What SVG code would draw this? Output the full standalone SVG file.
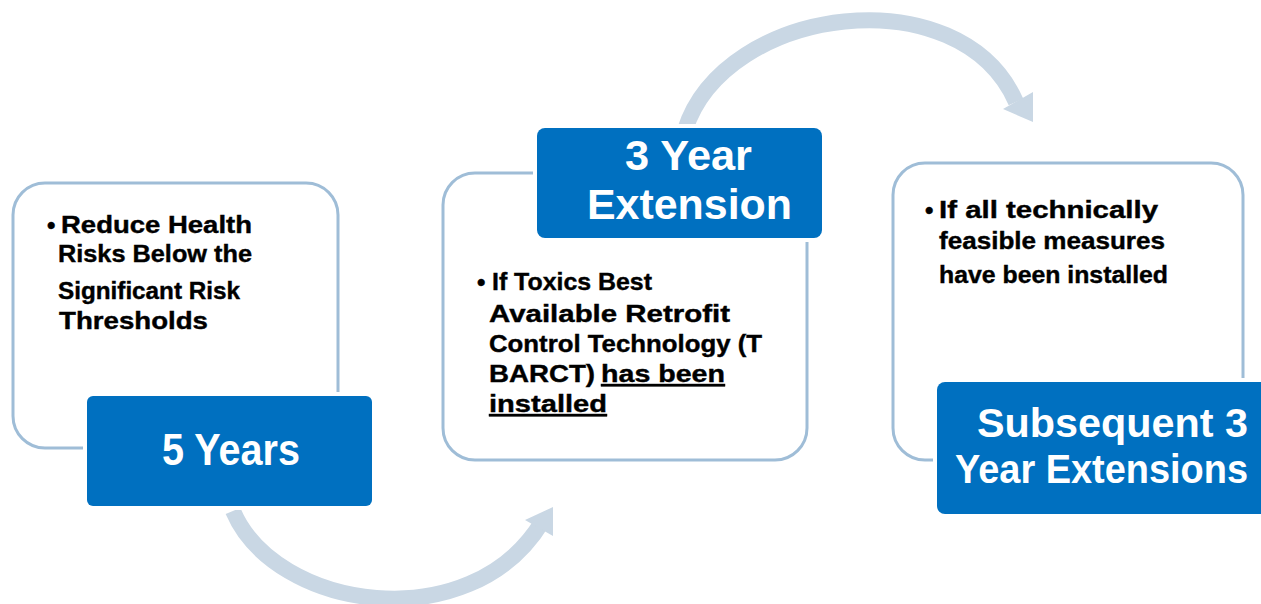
<svg xmlns="http://www.w3.org/2000/svg" width="1261" height="604" viewBox="0 0 1261 604">
<style>
.outline{fill:#ffffff;stroke:#9fbdd7;stroke-width:3}
.gap{fill:#ffffff}
.blue{fill:#0070c0}
.head{font-family:"Liberation Sans",Arial,sans-serif;font-weight:bold;fill:#ffffff}
.body{font-family:"Liberation Sans",Arial,sans-serif;font-weight:bold;font-size:24px;fill:#000000;stroke:#000000;stroke-width:0.4}
.arc{fill:none;stroke:#c9d7e4;stroke-width:16}
.arrowhead{fill:#c9d7e4}
</style>
<rect width="1261" height="604" fill="#ffffff"/>
<g id="connectors">
  <path class="arc" d="M233,511 C275,610 470,640 542,522"/>
  <polygon class="arrowhead" points="553,507 525,520 553,536"/>
  <path class="arc" d="M685,130 C725,5 960,-25 1016,102"/>
  <polygon class="arrowhead" points="1033,92 1003,109 1033,122"/>
</g>
<g id="node-5-years">
  <rect class="outline" x="13" y="183" width="325" height="265" rx="32"/>
  <rect class="gap" x="83" y="392" width="293" height="118" rx="8"/>
  <rect class="blue" x="87" y="396" width="285" height="110" rx="6"/>
  <text class="head" x="162" y="465" font-size="44" textLength="138" lengthAdjust="spacingAndGlyphs">5 Years</text>
  <text class="body" x="47" y="233">•</text>
  <text class="body" x="61" y="233" textLength="191" lengthAdjust="spacingAndGlyphs">Reduce Health</text>
  <text class="body" x="58" y="262" textLength="194" lengthAdjust="spacingAndGlyphs">Risks Below the</text>
  <text class="body" x="58" y="299" textLength="182" lengthAdjust="spacingAndGlyphs">Significant Risk</text>
  <text class="body" x="59" y="329" textLength="149" lengthAdjust="spacingAndGlyphs">Thresholds</text>
</g>
<g id="node-3-year-extension">
  <rect class="outline" x="443" y="173" width="364" height="287" rx="32"/>
  <rect class="gap" x="533" y="124" width="293" height="118" rx="10"/>
  <rect class="blue" x="537" y="128" width="285" height="110" rx="8"/>
  <text class="head" x="625" y="170" font-size="42" textLength="127" lengthAdjust="spacingAndGlyphs">3 Year</text>
  <text class="head" x="587" y="219" font-size="42" textLength="205" lengthAdjust="spacingAndGlyphs">Extension</text>
  <text class="body" x="477" y="290">•</text>
  <text class="body" x="492" y="290" textLength="160" lengthAdjust="spacingAndGlyphs">If Toxics Best</text>
  <text class="body" x="489" y="322" textLength="241" lengthAdjust="spacingAndGlyphs">Available Retrofit</text>
  <text class="body" x="489" y="352" textLength="273" lengthAdjust="spacingAndGlyphs">Control Technology (T</text>
  <text class="body" x="489" y="382" textLength="106" lengthAdjust="spacingAndGlyphs">BARCT)</text>
  <text class="body" x="601" y="382" textLength="124" lengthAdjust="spacingAndGlyphs" text-decoration="underline">has been</text>
  <text class="body" x="489" y="412" textLength="118" lengthAdjust="spacingAndGlyphs" text-decoration="underline">installed</text>
</g>
<g id="node-subsequent">
  <rect class="outline" x="893" y="163" width="350" height="297" rx="32"/>
  <rect class="gap" x="933" y="378" width="340" height="140" rx="10"/>
  <rect class="blue" x="937" y="382" width="336" height="132" rx="8"/>
  <text class="head" x="977" y="437" font-size="40" textLength="271" lengthAdjust="spacingAndGlyphs">Subsequent 3</text>
  <text class="head" x="955" y="483" font-size="40" textLength="293" lengthAdjust="spacingAndGlyphs">Year Extensions</text>
  <text class="body" x="925" y="218">•</text>
  <text class="body" x="939" y="218" textLength="219" lengthAdjust="spacingAndGlyphs">If all technically</text>
  <text class="body" x="939" y="249" textLength="226" lengthAdjust="spacingAndGlyphs">feasible measures</text>
  <text class="body" x="939" y="283" textLength="229" lengthAdjust="spacingAndGlyphs">have been installed</text>
</g>
</svg>
